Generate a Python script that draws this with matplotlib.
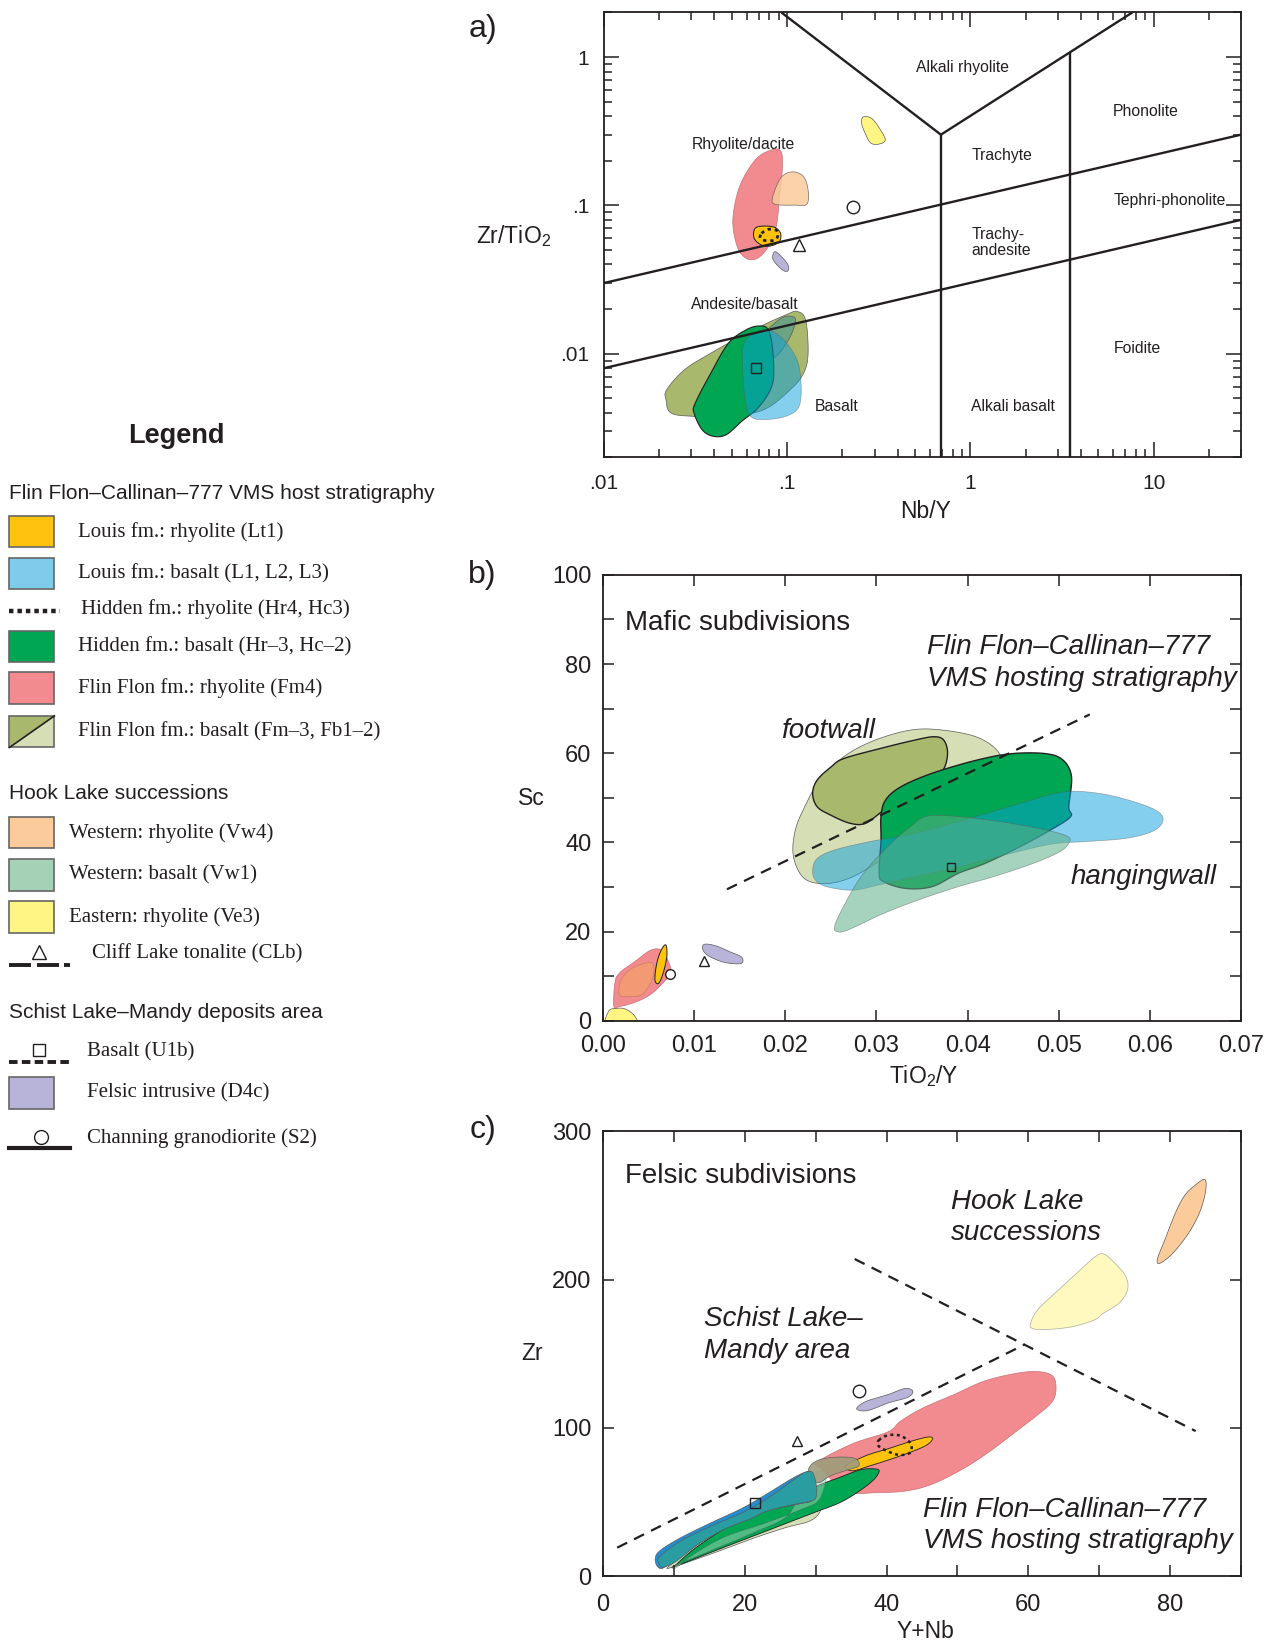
import numpy as np
import matplotlib
matplotlib.use("Agg")
import matplotlib.pyplot as plt
from matplotlib.patches import Rectangle, Polygon
from matplotlib.ticker import LogLocator, NullFormatter

plt.rcParams["font.family"] = ["Liberation Sans", "DejaVu Sans"]
plt.rcParams["mathtext.fontset"] = "custom"
plt.rcParams["mathtext.rm"] = "Liberation Sans"
SERIF = ["Liberation Serif", "DejaVu Serif"]
INK = "#231F20"

# unit colours
GOLD = "#FFC20E"
CYAN = "#0AA0DC"
LBLUE = "#7FCBEB"
GREEN = "#00A651"
PINK = "#F28B8F"
OLIVE = "#A8B86C"
PALE = "#D6DEB5"
PEACH = "#FBCB9B"
VW1 = "#A5D1B6"
VW1_T = "#5DAF87"
YEL = "#FFF582"
LAV = "#B7B3D9"

# ---------------- a) Nb/Y vs Zr/TiO2 ----------------
a_fm3_x = [0.0220, 0.0275, 0.0383, 0.0534, 0.0745, 0.0984, 0.113, 0.126, 0.130, 0.123, 0.104, 0.0745, 0.0478, 0.0307, 0.0232, 0.0218]
a_fm3_y = [0.00573, 0.00781, 0.0101, 0.0127, 0.0157, 0.0183, 0.0193, 0.0169, 0.0101, 0.00741, 0.00573, 0.00420, 0.00379, 0.00379, 0.00399, 0.00490]
a_vw1_x = [0.0745, 0.0930, 0.107, 0.111, 0.104, 0.0905, 0.0766, 0.0667, 0.0649, 0.0686]
a_vw1_y = [0.0138, 0.0174, 0.0178, 0.0165, 0.0131, 0.0101, 0.00865, 0.00888, 0.0106, 0.0124]
a_hb_x = [0.0315, 0.0383, 0.0478, 0.0597, 0.0705, 0.0788, 0.0833, 0.0833, 0.0705, 0.0565, 0.0465, 0.0394, 0.0343, 0.0310]
a_hb_y = [0.00466, 0.00741, 0.0118, 0.0145, 0.0154, 0.0145, 0.0106, 0.00635, 0.00442, 0.00351, 0.00285, 0.00278, 0.00308, 0.00399]
a_lb_x = [0.0581, 0.0667, 0.0788, 0.0957, 0.113, 0.119, 0.116, 0.0984, 0.0745, 0.0631, 0.0590, 0.0571]
a_lb_y = [0.0118, 0.0138, 0.0145, 0.0124, 0.00911, 0.00635, 0.00442, 0.00379, 0.00360, 0.00379, 0.00490, 0.00822]
a_fm4_x = [0.0549, 0.0667, 0.0810, 0.0920, 0.0941, 0.0905, 0.0870, 0.0788, 0.0686, 0.0597, 0.0534, 0.0505]
a_fm4_y = [0.1335, 0.2018, 0.2356, 0.2332, 0.1820, 0.1086, 0.0719, 0.0527, 0.0440, 0.0440, 0.0527, 0.0797]
a_vw4_x = [0.0905, 0.0984, 0.110, 0.123, 0.130, 0.128, 0.110, 0.0856, 0.0833]
a_vw4_y = [0.148, 0.164, 0.168, 0.156, 0.127, 0.102, 0.1005, 0.102, 0.114]
a_lt1_x = [0.0667, 0.0745, 0.0856, 0.0920, 0.0905, 0.0810, 0.0725, 0.0660]
a_lt1_y = [0.0700, 0.0726, 0.0711, 0.0648, 0.0570, 0.0533, 0.0541, 0.0600]
a_hr_x = [0.0725, 0.0788, 0.0870, 0.0890, 0.0856, 0.0766, 0.0713]
a_hr_y = [0.0648, 0.0690, 0.0682, 0.0632, 0.0585, 0.0579, 0.0600]
a_d4c_x = [0.0856, 0.0930, 0.101, 0.101, 0.0957, 0.0880, 0.0833]
a_d4c_y = [0.0488, 0.0452, 0.0397, 0.0363, 0.0363, 0.0397, 0.0440]
a_ve3_x = [0.260, 0.290, 0.324, 0.343, 0.315, 0.285, 0.267, 0.255]
a_ve3_y = [0.395, 0.385, 0.321, 0.275, 0.259, 0.264, 0.305, 0.356]
a_s2 = (0.229, 0.097)
a_clb = (0.116, 0.054)
a_u1b = (0.0675, 0.0080)

# field boundaries (Pearce 1996 style)
a_hi_x, a_hi_y = [0.01, 30], [0.03, 0.3]
a_lo_x, a_lo_y = [0.01, 30], [0.008, 0.08]
a_apex = (0.69, 0.3)
a_vl_top = 0.093
a_vr_top = 7.65
a_v2_x = 3.48
a_fields = [
    ("Alkali rhyolite", 0.905, 0.856, "center"),
    ("Phonolite", 5.97, 0.431, "left"),
    ("Rhyolite/dacite", 0.0574, 0.259, "center"),
    ("Trachyte", 1.01, 0.216, "left"),
    ("Tephri-phonolite", 6.04, 0.1075, "left"),
    ("Trachy-", 1.01, 0.0638, "left"),
    ("andesite", 1.01, 0.0495, "left"),
    ("Andesite/basalt", 0.059, 0.0215, "center"),
    ("Foidite", 6.04, 0.01086, "left"),
    ("Basalt", 0.141, 0.00438, "left"),
    ("Alkali basalt", 1.01, 0.00438, "left"),
]

# ---------------- b) TiO2/Y vs Sc ----------------
b_fb_x = [0.0209, 0.0211, 0.0223, 0.0238, 0.0264, 0.0298, 0.0341, 0.0380, 0.0414, 0.0435, 0.0438, 0.0409, 0.0361, 0.0312, 0.0274, 0.0245, 0.0221]
b_fb_y = [36.8, 42.8, 48.7, 54.0, 59.2, 62.9, 65.3, 65.0, 63.3, 59.9, 55.5, 48.0, 42.0, 36.8, 32.3, 30.8, 31.9]
b_fm3_x = [0.0230, 0.0235, 0.0250, 0.0264, 0.0303, 0.0341, 0.0363, 0.0374, 0.0378, 0.0373, 0.0358, 0.0332, 0.0308, 0.0288, 0.0271, 0.0250, 0.0235]
b_fm3_y = [51.0, 54.0, 56.9, 58.8, 61.0, 62.9, 63.7, 62.9, 59.9, 56.2, 53.6, 50.2, 47.2, 44.3, 44.3, 46.1, 48.0]
b_hb_x = [0.0305, 0.0310, 0.0327, 0.0361, 0.0409, 0.0448, 0.0486, 0.0505, 0.0514, 0.0511, 0.0513, 0.0491, 0.0457, 0.0419, 0.0390, 0.0361, 0.0332, 0.0308, 0.0303, 0.0305]
b_hb_y = [45.8, 49.5, 52.5, 55.5, 58.4, 59.9, 59.9, 58.4, 54.7, 48.0, 45.8, 42.8, 39.0, 35.3, 33.1, 30.1, 29.7, 31.2, 33.1, 40.5]
b_lb_x = [0.0230, 0.0235, 0.0254, 0.0293, 0.0341, 0.0409, 0.0457, 0.0505, 0.0544, 0.0583, 0.0609, 0.0614, 0.0602, 0.0573, 0.0530, 0.0491, 0.0433, 0.0385, 0.0341, 0.0303, 0.0274, 0.0245, 0.0233]
b_lb_y = [33.8, 36.4, 38.3, 40.2, 42.0, 45.8, 48.7, 51.3, 51.0, 49.1, 46.9, 44.6, 42.4, 40.9, 40.2, 39.6, 36.8, 34.2, 32.3, 30.5, 29.3, 30.1, 31.6]
b_vw1_x = [0.0254, 0.0262, 0.0283, 0.0312, 0.0337, 0.0356, 0.0390, 0.0438, 0.0486, 0.0510, 0.0511, 0.0501, 0.0472, 0.0428, 0.0390, 0.0346, 0.0308, 0.0269, 0.0257]
b_vw1_y = [21.1, 24.9, 32.3, 39.0, 43.5, 45.9, 45.8, 44.6, 42.8, 41.3, 39.8, 37.9, 35.3, 32.3, 30.1, 27.1, 24.1, 20.4, 20.0]
b_fm4_x = [0.0012, 0.0013, 0.0018, 0.0035, 0.0052, 0.0064, 0.0071, 0.0075, 0.0069, 0.0054, 0.0037, 0.0018]
b_fm4_y = [3.2, 8.4, 10.7, 13.3, 15.8, 15.9, 13.7, 10.7, 9.2, 6.2, 4.3, 3.2]
b_vw4_x = [0.0018, 0.0020, 0.0032, 0.0052, 0.0056, 0.0052, 0.0042, 0.0028]
b_vw4_y = [5.8, 9.2, 11.8, 13.1, 11.4, 8.4, 5.8, 5.5]
b_lt1_x = [0.0057, 0.0059, 0.0064, 0.0069, 0.0070, 0.0066, 0.0061]
b_lt1_y = [9.2, 12.9, 15.9, 17.0, 14.4, 10.7, 8.4]
b_d4c_x = [0.0109, 0.0112, 0.0124, 0.0139, 0.0152, 0.0152, 0.0139, 0.0127, 0.0114]
b_d4c_y = [16.3, 17.2, 16.8, 15.5, 14.3, 12.9, 12.9, 13.5, 14.8]
b_ve3_x = [0.0004, 0.0006, 0.0015, 0.0025, 0.0035, 0.0037]
b_ve3_y = [-1.5, 2.1, 2.8, 2.6, 1.0, -1.5]
b_s2 = (0.0073, 10.5)
b_clb = (0.0111, 13.5)
b_u1b = (0.0382, 34.4)
b_div_x, b_div_y = [0.0136, 0.0534], [29.5, 68.7]

# ---------------- c) Y+Nb vs Zr ----------------
c_fm4_x = [30.2, 35.2, 40.2, 42.0, 45.1, 49.5, 53.8, 58.2, 61.3, 63.4, 63.9, 63.4, 61.3, 58.2, 54.4, 50.7, 46.4, 42.6, 38.3, 35.2, 32.7, 30.9]
c_fm4_y = [76.9, 89.4, 97.4, 104.7, 113.4, 122.5, 131.6, 136.7, 138.0, 135.1, 127.1, 117.9, 108.8, 97.4, 83.7, 72.3, 62.1, 57.5, 56.4, 56.4, 63.2, 72.3]
c_vw4_x = [84.9, 85.0, 84.2, 82.7, 80.5, 78.6, 78.2, 79.3, 80.8, 82.1, 83.6]
c_vw4_y = [267.4, 259.4, 245.7, 232.0, 218.3, 211.0, 213.7, 227.3, 245.5, 256.9, 263.8]
c_ve3_x = [60.3, 61.3, 63.8, 66.9, 69.3, 70.6, 72.1, 73.7, 74.0, 72.8, 70.6, 69.3, 66.2, 62.5, 60.6]
c_ve3_y = [170.4, 179.5, 191.0, 204.6, 214.9, 217.2, 211.5, 202.4, 193.3, 184.1, 177.3, 172.8, 168.2, 166.3, 167.0]
c_lt1_x = [34.3, 37.1, 40.2, 43.9, 46.1, 46.4, 45.1, 41.4, 37.7, 35.2]
c_lt1_y = [74.6, 81.4, 86.0, 91.7, 94.0, 91.7, 87.1, 80.3, 74.6, 71.2]
c_hr_x = [38.9, 40.2, 42.0, 43.4, 43.3, 41.7, 39.9, 38.8]
c_hr_y = [91.7, 95.1, 94.7, 89.4, 83.3, 81.9, 84.9, 88.3]
c_d4c_x = [35.8, 37.1, 40.2, 42.6, 43.7, 43.0, 40.2, 37.7, 36.4]
c_d4c_y = [113.4, 117.9, 122.5, 126.6, 124.8, 120.7, 116.8, 112.2, 111.6]
c_fb_x = [9.75, 15.3, 21.5, 25.9, 29.0, 30.5, 30.7, 29.6, 26.5, 21.5, 17.2, 12.9, 9.4]
c_fb_y = [6.2, 15.3, 26.2, 33.1, 37.0, 42.7, 49.5, 51.8, 48.4, 42.7, 33.5, 19.9, 7.3]
c_vw1_x = [10.1, 15.3, 21.5, 25.9, 27.8, 29.0, 30.2, 31.5, 30.5, 27.8, 22.8, 17.2, 12.9, 10.4]
c_vw1_y = [7.3, 17.6, 30.1, 40.4, 56.4, 67.8, 70.5, 68.9, 51.8, 44.9, 35.8, 26.7, 15.3, 6.2]
c_hb_x = [10.1, 15.3, 21.5, 26.5, 30.2, 33.3, 35.8, 38.0, 38.9, 38.6, 36.4, 33.3, 30.2, 26.5, 21.5, 17.2, 12.9, 10.4]
c_hb_y = [6.6, 16.4, 27.8, 37.0, 43.8, 49.5, 56.4, 64.3, 70.0, 72.3, 71.9, 66.6, 60.9, 51.8, 42.7, 32.4, 18.7, 8.4]
c_fm3_x = [29.0, 30.2, 32.7, 35.5, 36.1, 34.6, 32.1, 30.5, 29.6]
c_fm3_y = [72.3, 78.0, 80.3, 79.6, 74.6, 71.9, 67.8, 63.2, 65.5]
c_lb_x = [7.4, 8.2, 11.0, 15.3, 19.7, 23.4, 26.5, 28.4, 29.3, 29.9, 29.6, 27.8, 22.8, 18.4, 14.1, 10.4, 8.5, 7.6]
c_lb_y = [13.0, 18.0, 26.2, 36.3, 46.1, 56.4, 65.5, 70.0, 70.0, 63.2, 51.8, 49.0, 44.0, 36.5, 26.0, 14.0, 5.7, 7.3]
c_lb2_x = [8.0, 11.0, 15.3, 20.3, 24.0, 27.1, 28.7, 29.6, 30.1, 30.0, 29.0, 25.9, 22.8, 20.9, 17.2, 13.5, 10.4, 8.5, 7.9]
c_lb2_y = [13.5, 24.0, 34.0, 44.5, 55.2, 65.9, 70.5, 69.6, 60.9, 52.9, 50.5, 47.5, 43.5, 39.0, 32.0, 22.0, 10.5, 6.2, 8.9]
c_s2 = (36.1, 124.8)
c_clb = (27.4, 91.0)
c_u1b = (21.4, 49.5)
c_div1_x, c_div1_y = [2.0, 59.5], [19.4, 156.3]
c_div2_x, c_div2_y = [35.5, 83.6], [213.8, 97.9]


def smooth(x, y, n=24):
    # closed Catmull-Rom through the traced outline points
    p = np.column_stack([x, y]).astype(float)
    m = len(p)
    t = np.linspace(0, 1, n, endpoint=False)[:, None]
    segs = []
    for i in range(m):
        p0, p1, p2, p3 = p[i - 1], p[i], p[(i + 1) % m], p[(i + 2) % m]
        segs.append(0.5 * (2 * p1 + (p2 - p0) * t
                           + (2 * p0 - 5 * p1 + 4 * p2 - p3) * t ** 2
                           + (3 * p1 - p0 - 3 * p2 + p3) * t ** 3))
    return np.vstack(segs)


def blob(ax, xs, ys, log=False, **kw):
    if log:
        p = 10 ** smooth(np.log10(xs), np.log10(ys))
    else:
        p = smooth(xs, ys)
    kw.setdefault("edgecolor", "#5a5a5a")
    kw.setdefault("linewidth", 0.5)
    ax.fill(p[:, 0], p[:, 1], **kw)


def marks(ax, s2, clb, u1b, ms):
    ax.plot(*s2, "o", mfc="white", mec=INK, ms=ms[0], mew=1, zorder=6)
    ax.plot(*clb, "^", mfc="white", mec=INK, ms=ms[1], mew=1, zorder=6)
    ax.plot(*u1b, "s", mfc="none", mec=INK, ms=ms[2], mew=1, zorder=6)


def frame(ax, size, xpad, ypad, major, minor=4):
    for s in ax.spines.values():
        s.set_linewidth(1.3)
        s.set_color(INK)
    ax.tick_params(which="both", direction="in", top=True, right=True,
                   color=INK, labelcolor=INK, labelsize=size, width=1.1)
    ax.tick_params(which="major", length=major)
    ax.tick_params(which="minor", length=minor)
    ax.tick_params(axis="x", pad=xpad)
    ax.tick_params(axis="y", pad=ypad)


fig = plt.figure(figsize=(12.7, 16.42), dpi=100)


def fx(x, y):
    return x / 1270, 1 - y / 1642


# ---------------- legend (left column) ----------------
lg = fig.add_axes([0, 0, 1, 1])
lg.set_xlim(0, 1270)
lg.set_ylim(1642, 0)
lg.axis("off")
lg.text(176, 436, "Legend", fontsize=19.5, fontweight="bold", ha="center", va="center", color=INK)
for y, txt in [(493.3, "Flin Flon\u2013Callinan\u2013777 VMS host stratigraphy"),
               (793.3, "Hook Lake successions"),
               (1012.3, "Schist Lake\u2013Mandy deposits area")]:
    lg.text(9.4, y, txt, fontsize=15, va="center", color=INK)

swatch_rows = [
    (531.7, GOLD, "Louis fm.: rhyolite (Lt1)", 78.5),
    (573.7, LBLUE, "Louis fm.: basalt (L1, L2, L3)", 78.5),
    (646.7, GREEN, "Hidden fm.: basalt (Hr\u20133, Hc\u20132)", 78.5),
    (688.3, PINK, "Flin Flon fm.: rhyolite (Fm4)", 78.5),
    (832.7, PEACH, "Western: rhyolite (Vw4)", 69),
    (875.0, VW1, "Western: basalt (Vw1)", 69),
    (917.3, YEL, "Eastern: rhyolite (Ve3)", 69),
    (1093.3, LAV, "Felsic intrusive (D4c)", 87),
]
for y, col, txt, tx in swatch_rows:
    lg.add_patch(Rectangle((9.4, y - 15.8), 45, 31.6, facecolor=col, edgecolor="#666666", lw=1.2))
    lg.text(tx, y, txt, fontsize=15, family=SERIF, va="center", color=INK)

# split swatch for Fm-3 / Fb1-2
y0, y1, x0, x1 = 731.7 - 15.8, 731.7 + 15.8, 9.4, 54.4
lg.add_patch(Polygon([(x0, y0), (x1, y0), (x0, y1)], closed=True, facecolor=OLIVE, edgecolor="none"))
lg.add_patch(Polygon([(x1, y0), (x1, y1), (x0, y1)], closed=True, facecolor=PALE, edgecolor="none"))
lg.add_patch(Rectangle((x0, y0), 45, 31.6, facecolor="none", edgecolor="#666666", lw=1.2))
lg.plot([x0, x1], [y1, y0], color=INK, lw=1.2)
lg.text(78.5, 731.7, "Flin Flon fm.: basalt (Fm\u20133, Fb1\u20132)", fontsize=15, family=SERIF, va="center", color=INK)

lg.plot([9.4, 60], [610.7, 610.7], color=INK, lw=3.2, ls=(0, (1.0, 0.9)), solid_capstyle="butt")
lg.text(80.6, 609.3, "Hidden fm.: rhyolite (Hr4, Hc3)", fontsize=15, family=SERIF, va="center", color=INK)

for a, b in [(9.4, 31), (37, 59), (64, 70)]:
    lg.plot([a, b], [964.7, 964.7], color=INK, lw=2.8, solid_capstyle="butt")
lg.plot(38.7, 952, "^", mfc="white", mec=INK, ms=10, mew=1)
lg.text(92, 954, "Cliff Lake tonalite (CLb)", fontsize=15, family=SERIF, va="center", color=INK)

lg.plot([9.4, 70], [1061.7, 1061.7], color=INK, lw=2.8, ls=(0, (2.2, 1.1)))
lg.plot(38.7, 1050, "s", mfc="white", mec=INK, ms=8, mew=1)
lg.text(87, 1051.7, "Basalt (U1b)", fontsize=15, family=SERIF, va="center", color=INK)

lg.plot([9.4, 70], [1147.7, 1147.7], color=INK, lw=3.0)
lg.plot(40.8, 1136.7, "o", mfc="white", mec=INK, ms=10, mew=1)
lg.text(87, 1137.7, "Channing granodiorite (S2)", fontsize=15, family=SERIF, va="center", color=INK)

# ---------------- panel a ----------------
axa = fig.add_axes([0.4756, 0.7214, 0.5016, 0.2710])
axa.set_xscale("log")
axa.set_yscale("log")
axa.set_xlim(0.01, 30)
axa.set_ylim(0.002, 2)
axa.set_xticks([0.01, 0.1, 1, 10], [".01", ".1", "1", "10"])
axa.set_yticks([0.01, 0.1, 1], [".01", ".1", "1"])
axa.xaxis.set_minor_locator(LogLocator(base=10, subs=np.arange(2, 10), numticks=20))
axa.yaxis.set_minor_locator(LogLocator(base=10, subs=np.arange(2, 10), numticks=20))
axa.xaxis.set_minor_formatter(NullFormatter())
axa.yaxis.set_minor_formatter(NullFormatter())
frame(axa, 15, 12, 10.5, 11, 6)

blob(axa, a_fm3_x, a_fm3_y, log=True, facecolor=OLIVE)
blob(axa, a_vw1_x, a_vw1_y, log=True, facecolor="#6BA383")
blob(axa, a_hb_x, a_hb_y, log=True, facecolor=GREEN, edgecolor=INK, linewidth=0.8)
blob(axa, a_lb_x, a_lb_y, log=True, facecolor=CYAN, alpha=0.5)
blob(axa, a_fm4_x, a_fm4_y, log=True, facecolor=PINK, edgecolor="#c97073")
blob(axa, a_vw4_x, a_vw4_y, log=True, facecolor=PEACH, alpha=0.85)
blob(axa, a_lt1_x, a_lt1_y, log=True, facecolor=GOLD, edgecolor=INK, linewidth=0.7)
blob(axa, a_hr_x, a_hr_y, log=True, facecolor="none", edgecolor=INK, linewidth=2.0, linestyle=(0, (1.2, 1.4)))
blob(axa, a_d4c_x, a_d4c_y, log=True, facecolor=LAV)
blob(axa, a_ve3_x, a_ve3_y, log=True, facecolor=YEL)

bkw = dict(color=INK, lw=1.7, zorder=5, solid_capstyle="butt")
axa.plot(a_hi_x, a_hi_y, **bkw)
axa.plot(a_lo_x, a_lo_y, **bkw)
axa.plot([a_apex[0], a_apex[0]], [0.002, a_apex[1]], **bkw)
axa.plot([a_vl_top, a_apex[0], a_vr_top], [2, a_apex[1], 2], **bkw)
t = (np.log10(a_v2_x) - np.log10(a_apex[0])) / (np.log10(a_vr_top) - np.log10(a_apex[0]))
v2_top = 10 ** (np.log10(a_apex[1]) + t * (np.log10(2) - np.log10(a_apex[1])))
axa.plot([a_v2_x, a_v2_x], [0.002, v2_top], **bkw)
for txt, x, y, ha in a_fields:
    axa.text(x, y, txt, fontsize=11.3, ha=ha, va="center", color=INK, zorder=7)
marks(axa, a_s2, a_clb, a_u1b, (9, 9, 7))

# ---------------- panel b ----------------
axb = fig.add_axes([0.4748, 0.3783, 0.5024, 0.2716])
axb.set_xlim(0, 0.07)
axb.set_ylim(0, 100)
bx = np.round(np.arange(0, 0.0701, 0.01), 2)
axb.set_xticks(bx, [f"{v:.2f}" for v in bx])
by = np.arange(0, 101, 10)
axb.set_yticks(by, [str(v) if v % 20 == 0 else "" for v in by])
frame(axb, 17, 10, 8.3, 8)

blob(axb, b_fb_x, b_fb_y, facecolor=PALE)
blob(axb, b_fm3_x, b_fm3_y, facecolor=OLIVE, edgecolor=INK, linewidth=1.0)
blob(axb, b_hb_x, b_hb_y, facecolor=GREEN, edgecolor=INK, linewidth=1.0)
blob(axb, b_lb_x, b_lb_y, facecolor=CYAN, alpha=0.5)
blob(axb, b_vw1_x, b_vw1_y, facecolor=VW1_T, alpha=0.55)
blob(axb, b_fm4_x, b_fm4_y, facecolor=PINK, edgecolor="#c97073")
blob(axb, b_vw4_x, b_vw4_y, facecolor="#F39A74", edgecolor="#c9805e")
blob(axb, b_lt1_x, b_lt1_y, facecolor=GOLD, edgecolor=INK, linewidth=0.7)
blob(axb, b_d4c_x, b_d4c_y, facecolor=LAV)
blob(axb, b_ve3_x, b_ve3_y, facecolor=YEL)
axb.plot(b_div_x, b_div_y, color=INK, lw=1.6, ls=(0, (5, 3.5)), zorder=5)
marks(axb, b_s2, b_clb, b_u1b, (7, 6.5, 5.5))

axb.text(0.0024, 89.2, "Mafic subdivisions", fontsize=20, va="center", color=INK)
axb.text(0.0356, 83.8, "Flin Flon\u2013Callinan\u2013777", fontsize=20, style="italic", va="center", color=INK)
axb.text(0.0356, 76.7, "VMS hosting stratigraphy", fontsize=20, style="italic", va="center", color=INK)
axb.text(0.0195, 65.0, "footwall", fontsize=20, style="italic", va="center", color=INK)
axb.text(0.0513, 32.2, "hangingwall", fontsize=20, style="italic", va="center", color=INK)

# ---------------- panel c ----------------
axc = fig.add_axes([0.4748, 0.0399, 0.5024, 0.2713])
axc.set_xlim(0, 90)
axc.set_ylim(0, 300)
cx = np.arange(0, 91, 10)
axc.set_xticks(cx, [str(v) if v % 20 == 0 else "" for v in cx])
axc.set_yticks([0, 100, 200, 300])
frame(axc, 17, 12.5, 8.3, 8)

blob(axc, c_fm4_x, c_fm4_y, facecolor=PINK, edgecolor="#c97073")
blob(axc, c_fb_x, c_fb_y, facecolor=PALE)
blob(axc, c_hb_x, c_hb_y, facecolor=GREEN, edgecolor=INK, linewidth=0.6)
blob(axc, c_vw1_x, c_vw1_y, facecolor=VW1, alpha=0.5)
blob(axc, c_lt1_x, c_lt1_y, facecolor=GOLD, edgecolor=INK, linewidth=0.6)
blob(axc, c_fm3_x, c_fm3_y, facecolor="#9E9C7C", alpha=0.9)
blob(axc, c_lb_x, c_lb_y, facecolor="#1F8FD6")
blob(axc, c_lb2_x, c_lb2_y, facecolor="#2A9DA3")
blob(axc, c_hr_x, c_hr_y, facecolor="none", edgecolor=INK, linewidth=1.8, linestyle=(0, (1.2, 1.4)))
blob(axc, c_d4c_x, c_d4c_y, facecolor=LAV)
blob(axc, c_vw4_x, c_vw4_y, facecolor=PEACH)
blob(axc, c_ve3_x, c_ve3_y, facecolor=YEL, alpha=0.5)
axc.plot(c_div1_x, c_div1_y, color=INK, lw=1.6, ls=(0, (5, 3.5)), zorder=5)
axc.plot(c_div2_x, c_div2_y, color=INK, lw=1.6, ls=(0, (5, 3.5)), zorder=5)
marks(axc, c_s2, c_clb, c_u1b, (9, 7, 7))

axc.text(3.1, 269.8, "Felsic subdivisions", fontsize=20, va="center", color=INK)
axc.text(49.05, 252.2, "Hook Lake", fontsize=20, style="italic", va="center", color=INK)
axc.text(49.05, 231.0, "successions", fontsize=20, style="italic", va="center", color=INK)
axc.text(14.2, 173.3, "Schist Lake\u2013", fontsize=20, style="italic", va="center", color=INK)
axc.text(14.2, 152.1, "Mandy area", fontsize=20, style="italic", va="center", color=INK)
axc.text(45.2, 44.9, "Flin Flon\u2013Callinan\u2013777", fontsize=20, style="italic", va="center", color=INK)
axc.text(45.2, 23.8, "VMS hosting stratigraphy", fontsize=20, style="italic", va="center", color=INK)

# axis labels and panel letters
for txt, x, y in [("Zr/TiO$_2$", 514, 236), ("Nb/Y", 925.5, 512), ("Sc", 531, 798),
                  ("TiO$_2$/Y", 923.5, 1076), ("Zr", 532, 1354), ("Y+Nb", 925.5, 1631)]:
    fig.text(*fx(x, y), txt, fontsize=16.5, ha="center", va="center", color=INK)
for txt, y in [("a)", 29), ("b)", 575), ("c)", 1130)]:
    fig.text(*fx(482.7, y), txt, fontsize=23, ha="center", va="center", color=INK)

fig.savefig("out.png", dpi=100)
